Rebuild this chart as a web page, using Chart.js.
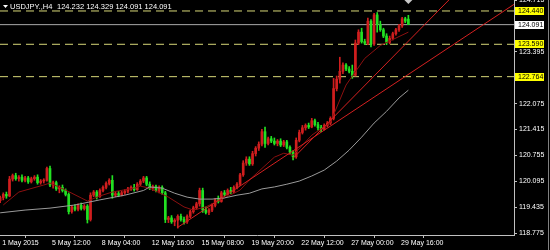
<!DOCTYPE html>
<html>
<head>
<meta charset="utf-8">
<script src="https://cdn.jsdelivr.net/npm/chart.js@4.4.1/dist/chart.umd.min.js"></script>
<style>
  html, body { margin: 0; padding: 0; background: #000; }
  #wrap { width: 550px; height: 250px; position: relative; }
</style>
</head>
<body>
<div id="wrap"><canvas id="c" width="550" height="250"></canvas></div>
<script>
// USDJPY, H4 candles (1 May 2015 - 29 May 2015)
const symbolTitle = 'USDJPY.,H4';
const lastQuote = ['124.232', '124.329', '124.091', '124.091'];

const open = [
  119.60,119.68,119.76,119.72,120.15,120.24,120.16,120.20,120.12,120.18,
  120.08,120.16,120.20,120.06,120.10,120.12,120.42,120.00,120.06,119.90,
  119.94,119.86,119.76,119.32,119.44,119.38,119.48,119.40,119.46,119.12,
  119.74,119.82,119.70,119.86,119.94,120.04,120.12,119.74,119.78,119.74,
  119.80,119.84,119.90,119.94,119.88,120.02,120.10,120.18,120.02,119.92,
  119.96,119.86,119.94,119.80,119.12,119.16,119.06,119.10,119.20,119.12,
  119.06,119.20,119.32,119.42,119.52,119.86,119.36,119.30,119.36,119.48,
  119.62,119.58,119.80,119.76,119.86,119.82,119.94,120.02,120.26,120.56,
  120.66,120.54,120.80,120.94,121.04,121.36,121.06,121.18,121.12,121.06,
  121.12,121.02,121.10,120.96,120.84,120.72,121.14,121.34,121.46,121.52,
  121.48,121.64,121.54,121.46,121.42,121.52,121.58,121.70,122.46,122.70,
  122.90,123.06,122.96,122.90,122.80,123.62,123.90,123.66,123.62,124.18,
  123.60,124.34,124.10,123.96,123.80,123.64,123.74,123.86,123.96,124.06,
  124.24,124.232
];
const high = [
  119.72,119.80,119.82,120.22,120.28,120.30,120.24,120.26,120.22,120.22,
  120.20,120.24,120.26,120.14,120.16,120.46,120.48,120.10,120.10,119.98,
  120.00,119.90,119.80,119.48,119.50,119.52,119.54,119.50,119.50,119.80,
  119.86,119.86,119.90,119.98,120.08,120.16,120.24,119.82,119.84,119.84,
  119.88,119.94,119.98,120.02,120.06,120.14,120.22,120.22,120.08,120.00,
  120.00,119.98,119.98,119.84,119.20,119.22,119.14,119.24,119.26,119.18,
  119.24,119.36,119.46,119.56,119.92,119.92,119.44,119.40,119.52,119.66,
  119.72,119.84,119.86,119.90,119.94,119.98,120.06,120.30,120.62,120.72,
  120.72,120.86,120.98,121.10,121.42,121.48,121.22,121.24,121.20,121.16,
  121.18,121.14,121.14,121.00,120.88,121.20,121.40,121.52,121.56,121.58,
  121.70,121.68,121.60,121.52,121.56,121.62,121.74,122.72,122.78,123.26,
  123.12,123.10,123.02,123.06,123.70,123.96,124.00,123.72,124.26,124.22,
  124.38,124.40,124.18,124.00,123.86,123.80,123.90,124.00,124.10,124.28,
  124.28,124.329
];
const low = [
  119.55,119.62,119.66,119.70,120.10,120.12,120.10,120.08,120.08,120.04,
  120.05,120.12,120.02,120.02,120.05,120.10,119.96,119.92,119.86,119.80,
  119.82,119.72,119.26,119.28,119.34,119.34,119.36,119.36,119.03,119.08,
  119.70,119.64,119.68,119.82,119.90,120.00,119.66,119.70,119.70,119.72,
  119.76,119.80,119.86,119.84,119.86,119.98,120.06,119.98,119.88,119.86,
  119.82,119.80,119.76,119.04,119.04,119.02,118.96,118.90,119.08,119.00,
  119.02,119.16,119.28,119.38,119.46,119.30,119.26,119.24,119.32,119.44,
  119.54,119.56,119.72,119.74,119.78,119.80,119.90,119.98,120.22,120.50,
  120.50,120.50,120.74,120.88,121.00,120.96,121.02,121.08,121.02,121.00,
  120.98,120.98,120.92,120.80,120.64,120.68,121.10,121.30,121.40,121.44,
  121.46,121.50,121.40,121.36,121.40,121.48,121.54,121.66,122.40,122.60,
  122.84,122.92,122.86,122.72,122.78,123.58,123.62,123.58,123.58,123.52,
  123.56,123.90,123.92,123.76,123.58,123.60,123.70,123.82,123.92,124.02,
  124.14,124.091
];
const close = [
  119.68,119.76,119.72,120.15,120.24,120.16,120.20,120.12,120.18,120.08,
  120.16,120.20,120.06,120.10,120.12,120.42,120.00,120.06,119.90,119.94,
  119.86,119.76,119.32,119.44,119.38,119.48,119.40,119.46,119.12,119.74,
  119.82,119.70,119.86,119.94,120.04,120.12,119.74,119.78,119.74,119.80,
  119.84,119.90,119.94,119.88,120.02,120.10,120.18,120.02,119.92,119.96,
  119.86,119.94,119.80,119.12,119.16,119.06,119.10,119.20,119.12,119.06,
  119.20,119.32,119.42,119.52,119.86,119.36,119.30,119.36,119.48,119.62,
  119.58,119.80,119.76,119.86,119.82,119.94,120.02,120.26,120.56,120.66,
  120.54,120.80,120.94,121.04,121.36,121.06,121.18,121.12,121.06,121.12,
  121.02,121.10,120.96,120.84,120.72,121.14,121.34,121.46,121.52,121.48,
  121.64,121.54,121.46,121.42,121.52,121.58,121.70,122.46,122.70,122.90,
  123.06,122.96,122.90,122.80,123.62,123.90,123.66,123.62,124.18,123.60,
  124.34,124.10,123.96,123.80,123.64,123.74,123.86,123.96,124.06,124.24,
  124.18,124.091
];

// Slow moving average (grey), sampled at bar positions
const slowMaBars = [0,8,16,24,32,40,46,48,52,56,60,64,68,72,76,80,84,88,92,96,100,104,108,112,116,120,124,128,131];
const slowMaVals = [119.29,119.36,119.41,119.49,119.62,119.74,119.86,119.95,119.92,119.79,119.69,119.64,119.64,119.67,119.74,119.79,119.90,119.95,120.02,120.10,120.23,120.38,120.61,120.89,121.22,121.58,121.88,122.22,122.42];

// Fast moving average (dark red), sampled at bar positions
const fastMaBars = [1,6,14,16,21,26,28,32,36,43,45,48,54,59,62,66,72,77,80,88,91,94,100,106,111,117,122,131];
const fastMaVals = [119.49,119.82,120.00,120.05,119.87,119.67,119.59,119.72,119.82,119.92,119.97,119.92,119.69,119.44,119.36,119.44,119.67,119.87,120.13,120.71,120.81,120.76,121.27,121.60,122.55,123.23,123.56,123.90];

// Trend lines: [bar, price] anchor pairs
const trendLineA = [[94, 120.68], [144, 124.72]];
const trendLineB = [[57, 118.92], [167, 124.72]];

// Horizontal price levels and current bid
const levels = [124.440, 123.590, 122.764];
const bidPrice = 124.091;

// Time axis labels and the bars they sit on
const timeLabels = ['1 May 2015','5 May 12:00','8 May 04:00','12 May 16:00','15 May 08:00','19 May 20:00','22 May 12:00','27 May 00:00','29 May 16:00'];
const timeLabelBars = [0,16,32,48,64,80,96,112,128];

// Price axis ticks
const priceTicks = [118.775,119.435,120.095,120.755,121.415,122.075,123.395,124.715];

const UP = '#d01e1e';
const DOWN = '#22e022';
const FONT = "'Liberation Sans', Arial, sans-serif";
const xMin = -0.05, xMax = 164.9;
const yMin = 118.724, yMax = 124.72;

const candleColor = ctx => close[ctx.dataIndex] >= open[ctx.dataIndex] ? UP : DOWN;

const lineSet = (pts, color, width, dash, order) => ({
  type: 'line',
  data: pts.map(p => ({ x: p[0], y: p[1] })),
  borderColor: color,
  borderWidth: width,
  borderDash: dash || [],
  pointRadius: 0,
  tension: 0,
  fill: false,
  order: order
});

const datasets = [
  // wicks
  {
    type: 'bar',
    data: low.map((l, i) => ({ x: i, y: [l, high[i]] })),
    backgroundColor: candleColor,
    barThickness: 1,
    grouped: false,
    order: 6
  },
  // bodies
  {
    type: 'bar',
    data: open.map((o, i) => ({ x: i, y: [o, close[i]] })),
    backgroundColor: candleColor,
    barThickness: 2,
    minBarLength: 1,
    grouped: false,
    order: 5
  },
  lineSet(slowMaBars.map((b, i) => [b, slowMaVals[i]]), '#9a9a9a', 1, null, 2),
  lineSet(fastMaBars.map((b, i) => [b, fastMaVals[i]]), '#8c1010', 1, null, 2),
  lineSet(trendLineA, '#d42020', 1, null, 1),
  lineSet(trendLineB, '#d42020', 1, null, 1),
  ...levels.map(v => lineSet([[xMin, v], [xMax, v]], '#d8d878', 1, [8, 5], 8)),
  lineSet([[xMin, bidPrice], [xMax, bidPrice]], '#a8a8a8', 1, null, 8)
];

// Title, price boxes and the chart-shift marker
const overlay = {
  id: 'overlay',
  afterDraw(chart) {
    const c = chart.ctx, ys = chart.scales.y, xs = chart.scales.x;
    c.save();
    c.textBaseline = 'middle';
    c.textAlign = 'left';
    // title
    c.fillStyle = '#ffffff';
    c.beginPath(); c.moveTo(3, 5); c.lineTo(8, 5); c.lineTo(5.5, 8); c.closePath(); c.fill();
    c.font = '7.5px ' + FONT;
    c.fillText(symbolTitle, 10, 7);
    c.fillText(lastQuote.join(' '), 57, 7);
    // level boxes
    c.font = '7px ' + FONT;
    const box = (v, bg) => {
      const y = Math.round(ys.getPixelForValue(v));
      c.fillStyle = bg;
      c.fillRect(515, y - 4, 29, 8);
      c.fillStyle = '#000';
      c.fillText(v.toFixed(3), 518, y + 0.5);
    };
    levels.forEach(v => box(v, '#ffff00'));
    box(bidPrice, '#ffffff');
    // shift marker above the last bar
    const lx = xs.getPixelForValue(close.length - 1);
    c.fillStyle = '#c8c8c8';
    c.beginPath(); c.moveTo(lx - 4, 0); c.lineTo(lx + 4, 0); c.lineTo(lx, 4); c.closePath(); c.fill();
    // window frame on the right
    c.fillStyle = '#808080';
    c.fillRect(548, 0, 1, 250);
    c.restore();
  }
};

new Chart(document.getElementById('c'), {
  data: { datasets },
  plugins: [overlay],
  options: {
    responsive: false,
    animation: false,
    events: [],
    devicePixelRatio: 1,
    layout: { padding: 0 },
    plugins: { legend: { display: false }, tooltip: { enabled: false } },
    scales: {
      x: {
        type: 'linear',
        min: xMin, max: xMax,
        offset: false,
        afterBuildTicks: s => { s.ticks = timeLabelBars.map(v => ({ value: v })); },
        afterFit: s => { s.height = 15; s.paddingLeft = 0; s.paddingRight = 0; },
        ticks: {
          color: '#ffffff',
          font: { family: FONT, size: 7 },
          align: 'start',
          labelOffset: 2,
          padding: 1,
          maxRotation: 0,
          autoSkip: false,
          callback: v => timeLabels[timeLabelBars.indexOf(v)]
        },
        grid: { drawOnChartArea: false, drawTicks: true, tickLength: 3, color: '#c0c0c0' },
        border: { display: true, color: '#c0c0c0' }
      },
      y: {
        type: 'linear',
        position: 'right',
        min: yMin, max: yMax,
        afterBuildTicks: s => { s.ticks = priceTicks.map(v => ({ value: v })); },
        afterFit: s => { s.width = 36; s.paddingTop = 0; s.paddingBottom = 0; },
        ticks: {
          color: '#ffffff',
          font: { family: FONT, size: 7 },
          padding: 2,
          autoSkip: false,
          callback: v => v.toFixed(3)
        },
        grid: { drawOnChartArea: false, drawTicks: true, tickLength: 3, color: '#c0c0c0' },
        border: { display: true, color: '#c0c0c0' }
      }
    }
  }
});
</script>
</body>
</html>
